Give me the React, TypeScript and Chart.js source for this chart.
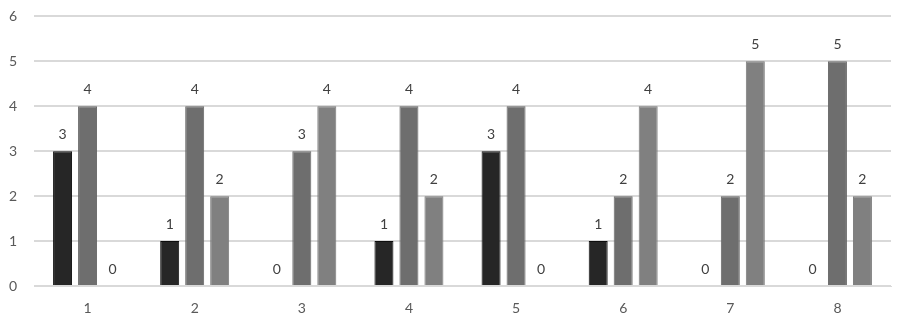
import React, { useEffect, useRef } from "react";
import { Chart, registerables } from "chart.js";

Chart.register(...registerables);

const categories = ["1", "2", "3", "4", "5", "6", "7", "8"];
const seriesA = [3, 1, 0, 1, 3, 1, 0, 0];
const seriesB = [4, 4, 3, 4, 4, 2, 2, 5];
const seriesC = [0, 2, 4, 2, 0, 4, 5, 2];

const FONT = "Lato, 'Open Sans', sans-serif";

const valueLabels = {
  id: "valueLabels",
  afterDatasetsDraw(chart: any) {
    const ctx = chart.ctx;
    ctx.save();
    ctx.font = "14px " + FONT;
    ctx.fillStyle = "#404040";
    ctx.textAlign = "center";
    ctx.textBaseline = "bottom";
    chart.data.datasets.forEach((ds: any, i: number) => {
      const meta = chart.getDatasetMeta(i);
      meta.data.forEach((bar: any, j: number) => {
        ctx.fillText(String(ds.data[j]), bar.x, bar.y - 10);
      });
    });
    ctx.restore();
  },
};

export default function App() {
  const ref = useRef<HTMLCanvasElement>(null);
  useEffect(() => {
    const chart = new Chart(ref.current!, {
      type: "bar",
      data: {
        labels: categories,
        datasets: [
          { data: seriesA, backgroundColor: "#262626", borderColor: "#0d0d0d", borderWidth: 1 },
          { data: seriesB, backgroundColor: "#6e6e6e", borderColor: "#666666", borderWidth: 1 },
          { data: seriesC, backgroundColor: "#808080", borderColor: "#787878", borderWidth: 1 },
        ],
      },
      options: {
        animation: false,
        responsive: false,
        maintainAspectRatio: false,
        layout: { padding: { top: 0, right: 12, left: 0, bottom: 0 } },
        plugins: { legend: { display: false }, tooltip: { enabled: false } },
        datasets: { bar: { categoryPercentage: 0.7, barPercentage: 0.76 } },
        scales: {
          x: {
            grid: { display: false, drawTicks: false },
            border: { display: true, color: "#d9d9d9", width: 1 },
            ticks: { color: "#595959", font: { size: 14, family: FONT }, padding: 14 },
            afterFit: (s: any) => { s.height = 34; },
          },
          y: {
            min: 0,
            max: 6,
            ticks: { stepSize: 1, color: "#595959", font: { size: 14, family: FONT }, padding: 17 },
            grid: { color: "#d9d9d9", lineWidth: 2, drawTicks: false },
            border: { display: false },
            afterFit: (s: any) => { s.width = 34; },
          },
        },
      },
      plugins: [valueLabels],
    });
    return () => chart.destroy();
  }, []);
  return (
    <div style={{ position: "fixed", left: 0, top: 0, width: 903, height: 320, overflow: "hidden", background: "#fff" }}>
      <canvas ref={ref} width={903} height={329} style={{ position: "absolute", left: 0, top: -9 }} />
    </div>
  );
}
